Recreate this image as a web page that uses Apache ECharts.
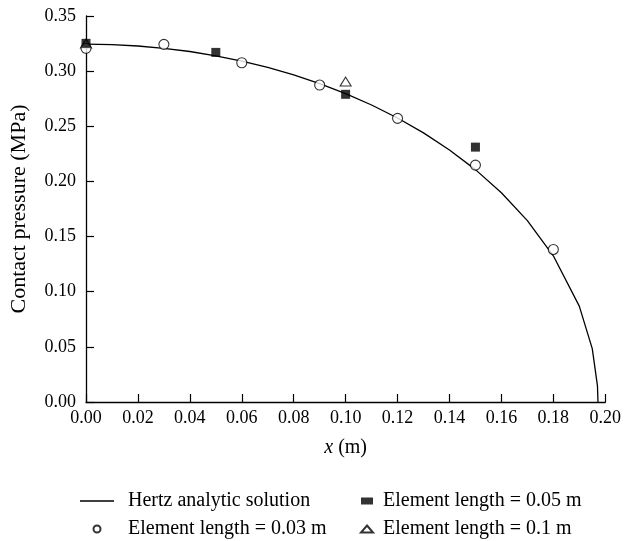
<!DOCTYPE html>
<html>
<head>
<meta charset="utf-8">
<script src="https://cdn.jsdelivr.net/npm/echarts@6/dist/echarts.min.js"></script>
<style>
  html, body { margin: 0; padding: 0; background: #fff; }
  #chart { width: 624px; height: 541px; }
</style>
</head>
<body>
<div id="chart"></div>
<script>
// Hertz contact pressure vs position
const hertzX = [0, 0.01, 0.02, 0.03, 0.04, 0.05, 0.06, 0.07, 0.08, 0.09, 0.10, 0.11, 0.12, 0.13, 0.14, 0.15, 0.16, 0.17, 0.18, 0.19, 0.195, 0.197, 0.1972];
const hertzY = [0.3245, 0.3241, 0.3228, 0.3207, 0.3178, 0.3139, 0.3091, 0.3034, 0.2966, 0.2887, 0.2797, 0.2693, 0.2575, 0.2440, 0.2285, 0.2107, 0.1897, 0.1645, 0.1326, 0.0869, 0.0484, 0.0146, 0];

const elem003X = [0, 0.03, 0.06, 0.09, 0.12, 0.15, 0.18];
const elem003Y = [0.3207, 0.3243, 0.3076, 0.2874, 0.2572, 0.2148, 0.1383];

const elem005X = [0, 0.05, 0.10, 0.15];
const elem005Y = [0.3252, 0.3170, 0.2790, 0.2311];

const elem01X = [0, 0.10];
const elem01Y = [0.3250, 0.2905];

const xTicks = { min: 0, max: 0.20, interval: 0.02 };
const yTicks = { min: 0, max: 0.35, interval: 0.05 };

const SERIF = '"Liberation Serif", "DejaVu Serif", serif';
const INK = "#000";

const zip = (xs, ys) => xs.map((x, i) => [x, ys[i]]);

const axisCommon = {
  axisLine: { show: true, onZero: false, lineStyle: { color: INK, width: 1.3 } },
  axisTick: { show: true, inside: true, length: 8, lineStyle: { color: INK, width: 1.2 } },
  splitLine: { show: false },
  axisLabel: { color: INK, fontFamily: SERIF, fontSize: 18, formatter: (v) => v.toFixed(2) },
  nameLocation: "middle",
};

const legendText = { fontFamily: SERIF, fontSize: 20, color: INK };

const chart = echarts.init(document.getElementById("chart"), null, { renderer: "canvas" });
chart.setOption({
  animation: false,
  textStyle: { fontFamily: SERIF, color: INK },
  grid: { left: 85, right: 17, top: 16, bottom: 139, containLabel: false },
  xAxis: {
    type: "value",
    ...xTicks,
    ...axisCommon,
    axisLabel: { ...axisCommon.axisLabel, margin: 7 },
    name: "{i|x} (m)",
    nameGap: 36,
    nameTextStyle: {
      color: INK, fontFamily: SERIF, fontSize: 20,
      rich: { i: { fontStyle: "italic", fontFamily: SERIF, fontSize: 20, color: INK } },
    },
  },
  yAxis: {
    type: "value",
    ...yTicks,
    ...axisCommon,
    axisLabel: { ...axisCommon.axisLabel, margin: 10 },
    name: "Contact pressure (MPa)",
    nameGap: 56,
    nameTextStyle: { color: INK, fontFamily: SERIF, fontSize: 22 },
  },
  legend: [
    {
      orient: "vertical",
      left: 80,
      top: 491,
      padding: 0,
      itemWidth: 34,
      itemHeight: 7,
      itemGap: 8,
      textStyle: { ...legendText, padding: [0, 0, 0, 9] },
      data: [
        { name: "Hertz analytic solution", icon: "path://M0,0H34V1.3H0Z" },
        "Element length = 0.03 m",
      ],
    },
    {
      orient: "vertical",
      left: 360,
      top: 491,
      padding: 0,
      itemWidth: 12,
      itemHeight: 7,
      itemGap: 8,
      textStyle: { ...legendText, padding: [0, 0, 0, 5] },
      data: ["Element length = 0.05 m", "Element length = 0.1 m"],
    },
  ],
  series: [
    {
      name: "Hertz analytic solution",
      type: "line",
      data: zip(hertzX, hertzY),
      symbol: "none",
      lineStyle: { color: INK, width: 1.3 },
      itemStyle: { color: INK },
      z: 2,
    },
    {
      name: "Element length = 0.1 m",
      type: "scatter",
      data: zip(elem01X, elem01Y),
      symbol: "triangle",
      symbolSize: [11, 9],
      itemStyle: { color: "#fff", borderColor: INK, borderWidth: 1.1 },
      z: 3,
    },
    {
      name: "Element length = 0.03 m",
      type: "scatter",
      data: zip(elem003X, elem003Y),
      symbol: "circle",
      symbolSize: 10,
      itemStyle: { color: "#fff", borderColor: INK, borderWidth: 1.1 },
      z: 4,
    },
    {
      name: "Element length = 0.05 m",
      type: "scatter",
      data: zip(elem005X, elem005Y),
      symbol: "rect",
      symbolSize: 9,
      itemStyle: { color: INK },
      z: 5,
    },
  ],
});
</script>
</body>
</html>
